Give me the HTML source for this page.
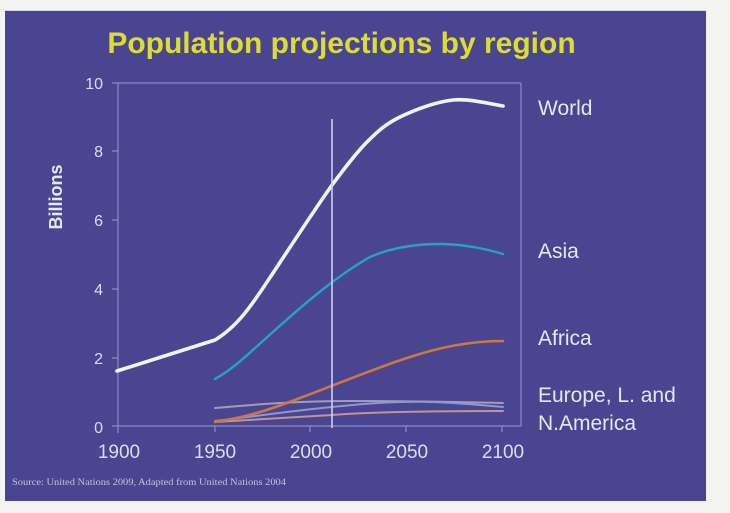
<!DOCTYPE html>
<html>
<head>
<meta charset="utf-8">
<style>
  html, body { margin: 0; padding: 0; width: 730px; height: 513px; overflow: hidden; background: #f3f3ef; }
  svg { display: block; }
</style>
</head>
<body>
<svg width="730" height="513" viewBox="0 0 730 513" xmlns="http://www.w3.org/2000/svg">
  <rect x="0" y="0" width="730" height="513" fill="#f3f3ef"/>
  <rect x="5" y="10" width="701" height="2" fill="#d8d6ea"/>
  <rect x="5" y="11" width="701" height="490" fill="#4a4590"/>

  <!-- Title -->
  <text x="341.5" y="53" text-anchor="middle" font-family="Liberation Sans, Arial, sans-serif" font-weight="bold" font-size="30" fill="#dcdc32">Population projections by region</text>

  <!-- Plot frame -->
  <g stroke="#8e89cc" stroke-width="1.2" fill="none">
    <line x1="118" y1="83" x2="521" y2="83"/>
    <line x1="521" y1="83" x2="521" y2="426"/>
    <line x1="118" y1="426" x2="521" y2="426"/>
    <line x1="118" y1="83" x2="118" y2="433"/>
    <line x1="112" y1="83" x2="118" y2="83"/>
    <line x1="112" y1="151" x2="118" y2="151"/>
    <line x1="112" y1="220" x2="118" y2="220"/>
    <line x1="112" y1="289" x2="118" y2="289"/>
    <line x1="112" y1="358" x2="118" y2="358"/>
    <line x1="112" y1="426" x2="118" y2="426"/>
    <line x1="215" y1="426" x2="215" y2="432"/>
    <line x1="310" y1="426" x2="310" y2="432"/>
    <line x1="406" y1="426" x2="406" y2="432"/>
    <line x1="502" y1="426" x2="502" y2="432"/>
  </g>

  <!-- Y tick labels -->
  <g font-family="Liberation Sans, Arial, sans-serif" font-size="16" fill="#dcdcf2" text-anchor="end">
    <text x="103" y="89">10</text>
    <text x="103" y="157">8</text>
    <text x="103" y="226">6</text>
    <text x="103" y="295">4</text>
    <text x="103" y="364">2</text>
    <text x="103" y="433">0</text>
  </g>

  <!-- X tick labels -->
  <g font-family="Liberation Sans, Arial, sans-serif" font-size="19" fill="#dcdcf2" text-anchor="middle">
    <text x="119" y="458">1900</text>
    <text x="215" y="458">1950</text>
    <text x="311" y="458">2000</text>
    <text x="407" y="458">2050</text>
    <text x="503" y="458">2100</text>
  </g>

  <!-- Y axis title -->
  <text x="0" y="0" transform="translate(62,197) rotate(-90)" text-anchor="middle" font-family="Liberation Sans, Arial, sans-serif" font-weight="bold" font-size="18" fill="#e6e6f6">Billions</text>

  <!-- Gray lines (Europe, L. and N. America) -->
  <g fill="none" stroke-width="2" stroke-linecap="round">
    <path d="M215,408 C260,404 300,401 350,401 C400,401 460,402 503,403" stroke="#a49cb4"/>
    <path d="M215,421 C250,417 290,411 332,407 C370,403 400,401 433,402 C460,403 480,405 503,407" stroke="#8e98d0"/>
    <path d="M215,422 C260,419 300,417 332,415 C370,412 420,411 503,411" stroke="#c09498"/>
  </g>

  <!-- Africa -->
  <path d="M215,422 C240,418 262,413 300,398 C330,387 370,370 407,358 C440,347 470,341 503,341" fill="none" stroke="#c87a44" stroke-width="2.6" stroke-linecap="round"/>

  <!-- Asia -->
  <path d="M215,379 C235,368 250,352 283,323 C310,299 340,274 370,257 C395,246 420,244 440,244 C465,244 490,250 503,254" fill="none" stroke="#2a9fcc" stroke-width="2.4" stroke-linecap="round"/>

  <!-- World -->
  <path d="M117,371 L215,340 C240,325 255,300 275,270 C300,232 320,202 332,185 C343.2,170 355.7,153.3 367,142 C378.3,130.7 385.7,124 400,117 C414.3,110 435.8,101.8 453,100 C470.2,98.2 494.7,105 503,106" fill="none" stroke="#f2f2fa" stroke-width="3.6" stroke-linecap="round" stroke-linejoin="round"/>

  <!-- Vertical marker line -->
  <line x1="332" y1="119" x2="332" y2="428" stroke="#cfcdf2" stroke-width="1.6"/>

  <!-- Series labels -->
  <g font-family="Liberation Sans, Arial, sans-serif" font-size="21" fill="#e6e6f6">
    <text x="538" y="115">World</text>
    <text x="538" y="258">Asia</text>
    <text x="538" y="345">Africa</text>
    <text x="538" y="402">Europe, L. and</text>
    <text x="538" y="430">N.America</text>
  </g>

  <!-- Source -->
  <text x="12" y="485" font-family="Liberation Serif, Times New Roman, serif" font-size="9" fill="#c4c2e4" textLength="274" lengthAdjust="spacingAndGlyphs">Source: United Nations 2009, Adapted from United Nations 2004</text>
</svg>
</body>
</html>
